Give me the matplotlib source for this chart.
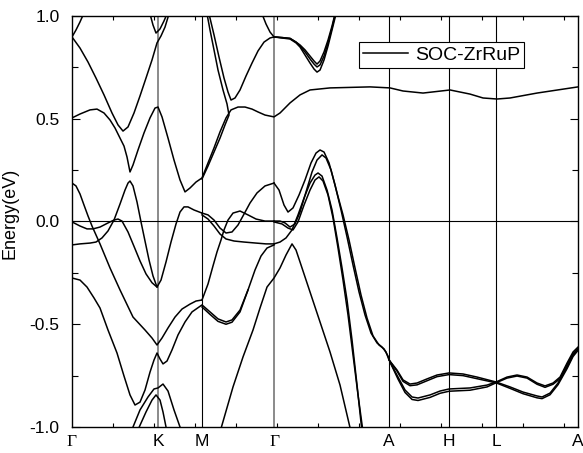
import matplotlib
matplotlib.use("Agg")
import matplotlib.pyplot as plt

plt.rcParams['font.family'] = ['Liberation Sans', 'DejaVu Sans']
plt.rcParams['axes.unicode_minus'] = False

# high-symmetry points (path coordinate) and labels
kpts = [0, 86, 130, 202, 317, 377, 424, 506]
klabels = ['Γ', 'K', 'M', 'Γ', 'A', 'H', 'L', 'A']

# ---- bands: (k list, E list) ----
bA0_k = [0, 4, 8, 12]
bA0_E = [0.898, 0.932, 0.971, 1.015]

bB_k = [0, 8, 16, 24, 32, 40, 46, 51, 56, 62, 68, 74, 80, 85, 89, 93, 97]
bB_E = [0.898, 0.844, 0.776, 0.698, 0.616, 0.528, 0.470, 0.440, 0.460, 0.528, 0.611, 0.698, 0.786, 0.869, 0.903, 0.946, 1.010]

bKV_k = [78, 81, 84, 88, 92, 95]
bKV_E = [1.010, 0.956, 0.917, 0.937, 0.976, 1.010]

bC_k = [0, 8, 18, 25, 32, 38, 43, 48, 52, 55, 58, 61, 66, 72, 78, 83, 86, 90, 96, 102, 108, 113, 118, 124, 130,
        136, 142, 148, 154, 159, 166, 173, 180, 186, 193, 202,
        208, 218, 228, 238, 258, 298, 318, 331, 351, 378, 398, 411, 425, 438, 465, 506]
bC_E = [0.504, 0.523, 0.543, 0.547, 0.528, 0.494, 0.455, 0.406, 0.367, 0.314, 0.241, 0.275, 0.348, 0.431, 0.504, 0.552, 0.557, 0.509, 0.406, 0.299, 0.202, 0.144, 0.163, 0.192, 0.212,
        0.285, 0.358, 0.436, 0.504, 0.543, 0.557, 0.557, 0.547, 0.533, 0.518, 0.509,
        0.528, 0.577, 0.616, 0.640, 0.650, 0.655, 0.650, 0.635, 0.625, 0.640, 0.620, 0.601, 0.596, 0.601, 0.625, 0.655]

bC2_k = [130, 136, 142, 148, 153, 157, 155, 151, 146, 142, 138, 135]
bC2_E = [0.207, 0.270, 0.338, 0.406, 0.470, 0.518, 0.572, 0.640, 0.737, 0.835, 0.932, 1.010]

bV2_k = [137, 142, 147, 152, 156, 159, 163, 168, 174, 180, 186, 192, 198, 202]
bV2_E = [1.010, 0.908, 0.800, 0.698, 0.630, 0.591, 0.601, 0.640, 0.708, 0.771, 0.830, 0.873, 0.893, 0.898]

bTG_k = [190, 194, 198, 202]
bTG_E = [1.010, 0.961, 0.922, 0.898]

bT1_k = [202, 210, 218, 224, 228, 233, 238, 242, 245, 248, 252, 256, 260, 263]
bT1_E = [0.898, 0.895, 0.891, 0.873, 0.859, 0.835, 0.805, 0.781, 0.766, 0.781, 0.825, 0.883, 0.951, 1.010]
bT2_k = [202, 210, 218, 224, 228, 233, 238, 242, 245, 248, 252, 256, 260, 263]
bT2_E = [0.898, 0.895, 0.891, 0.873, 0.854, 0.825, 0.791, 0.766, 0.752, 0.762, 0.805, 0.869, 0.942, 1.005]
bT3_k = [202, 210, 218, 224, 228, 233, 238, 242, 245, 248, 252, 256, 260, 264]
bT3_E = [0.898, 0.893, 0.888, 0.869, 0.849, 0.810, 0.771, 0.742, 0.727, 0.737, 0.786, 0.854, 0.932, 1.010]

bD_k = [0, 4, 8, 12, 16, 20, 28, 38, 48, 61, 73, 80, 85, 90, 96, 103, 110, 118, 124, 130]
bD_E = [0.187, 0.173, 0.134, 0.080, 0.027, -0.022, -0.109, -0.226, -0.333, -0.465, -0.528, -0.567, -0.601,
        -0.567, -0.518, -0.465, -0.426, -0.402, -0.387, -0.382]

bE_k = [0, 8, 15, 21, 28, 36, 42, 46, 50, 56, 62, 68, 74, 80, 85]
bE_E = [-0.002, -0.022, -0.036, -0.036, -0.027, -0.007, 0.007, 0.012, 0.002, -0.051, -0.121, -0.192, -0.255, -0.298, -0.319]

bF_k = [0, 8, 18, 24, 30, 36, 42, 48, 53, 56, 58, 61, 65, 69, 73, 77, 81, 85, 89, 94, 99, 104, 108, 112, 116, 122, 130]
bF_E = [-0.114, -0.109, -0.105, -0.100, -0.080, -0.046, 0.007, 0.085, 0.153, 0.187, 0.197, 0.173, 0.095, -0.002, -0.095, -0.187, -0.265, -0.319, -0.285, -0.197, -0.100, -0.012, 0.046, 0.071, 0.071, 0.056, 0.041]

bG_k = [0, 8, 15, 22, 28, 36, 45, 52, 58, 63, 68, 73, 78, 82, 85, 88, 91, 95, 100, 106, 113, 120, 130,
        138, 146, 154, 160, 168, 176, 183, 189, 195, 202]
bG_E = [-0.275, -0.285, -0.319, -0.372, -0.421, -0.528, -0.640, -0.752, -0.844, -0.893, -0.879, -0.820, -0.733, -0.674, -0.640, -0.669, -0.693, -0.679, -0.625, -0.552, -0.489, -0.440, -0.406,
        -0.440, -0.474, -0.489, -0.479, -0.431, -0.333, -0.236, -0.168, -0.129, -0.114]

bG2_k = [130, 138, 146, 154, 160, 168, 176]
bG2_E = [-0.416, -0.452, -0.486, -0.500, -0.490, -0.440, -0.333]

bH1_k = [59, 61, 68, 76, 82, 86, 91, 96, 102, 108, 110]
bH1_E = [-1.024, -1.0, -0.917, -0.854, -0.815, -0.810, -0.791, -0.825, -0.917, -1.0, -1.024]
bH2_k = [65, 74, 80, 84, 88, 91, 95]
bH2_E = [-1.024, -0.927, -0.869, -0.844, -0.869, -0.927, -1.024]

bR_k = [148, 161, 171, 181, 188, 195, 202, 208, 214, 220, 224, 228, 238, 248, 258, 268, 279]
bR_E = [-1.024, -0.805, -0.659, -0.528, -0.421, -0.319, -0.275, -0.226, -0.163, -0.109, -0.139, -0.197, -0.343, -0.489, -0.635, -0.796, -1.024]

bS1_k = [130, 136, 142, 148, 154, 160, 166, 172, 178, 185, 193, 202]
bS1_E = [0.041, 0.032, 0.007, -0.032, -0.056, -0.051, -0.017, 0.036, 0.090, 0.139, 0.173, 0.187]
bS2_k = [130, 136, 142, 148, 154, 162, 172, 184, 194, 202]
bS2_E = [0.032, 0.012, -0.022, -0.061, -0.085, -0.095, -0.100, -0.105, -0.109, -0.109]
bS3_k = [130, 136, 141, 145, 149, 152, 156, 161, 168, 176, 184, 193, 202]
bS3_E = [-0.382, -0.304, -0.216, -0.148, -0.090, -0.041, 0.007, 0.041, 0.051, 0.032, 0.012, 0.002, 0.002]

bP1_k = [202, 207, 212, 216, 221, 227, 233, 239, 244, 248, 252, 257, 263, 269, 275, 281, 287, 293, 299, 305, 310, 314, 317,
         325, 331, 338, 345, 355, 365, 377, 391, 405, 424, 438, 451, 465, 470, 478, 486, 495, 501, 506]
bP1_E = [0.187, 0.153, 0.080, 0.046, 0.066, 0.129, 0.202, 0.285, 0.333, 0.348, 0.338, 0.285, 0.178, 0.056, -0.075, -0.212, -0.343, -0.455, -0.543, -0.591, -0.611, -0.635, -0.674,
         -0.723, -0.771, -0.791, -0.786, -0.766, -0.747, -0.737, -0.742, -0.757, -0.781, -0.805, -0.830, -0.849, -0.854, -0.835, -0.786, -0.708, -0.650, -0.620]
bU2_k = [317, 325, 331, 338, 345, 355, 365, 377, 391, 405, 424, 438, 451, 465, 470, 478, 486, 495, 501, 506]
bU2_E = [-0.674, -0.728, -0.778, -0.799, -0.795, -0.775, -0.755, -0.745, -0.750, -0.765, -0.785, -0.812, -0.838, -0.858, -0.862, -0.843, -0.794, -0.716, -0.657, -0.627]

bP2_k = [202, 208, 213, 218, 223, 228, 234, 240, 245, 250, 254, 259, 265, 271, 277, 283, 289, 295, 301, 307, 312, 316, 318,
         326, 333, 340, 346, 358, 368, 377, 398, 415, 424, 435, 445, 455, 465, 473, 481, 488, 495, 501, 506]
bP2_E = [0.002, 0.002, -0.007, -0.027, -0.012, 0.046, 0.144, 0.241, 0.299, 0.324, 0.309, 0.251, 0.139, 0.032, -0.090, -0.226, -0.358, -0.470, -0.557, -0.601, -0.620, -0.655, -0.684,
         -0.757, -0.820, -0.854, -0.859, -0.844, -0.825, -0.815, -0.810, -0.796, -0.781, -0.757, -0.747, -0.757, -0.786, -0.800, -0.786, -0.757, -0.689, -0.635, -0.611]
bW2_k = [318, 326, 333, 340, 346, 358, 368, 377, 398, 415, 424, 435, 445, 455, 465, 473, 481, 488, 495, 501, 506]
bW2_E = [-0.684, -0.767, -0.832, -0.866, -0.871, -0.856, -0.836, -0.826, -0.821, -0.805, -0.785, -0.762, -0.752, -0.762, -0.792, -0.807, -0.792, -0.765, -0.697, -0.643, -0.619]

bP3_k = [202, 208, 214, 220, 226, 232, 238, 243, 246, 250, 255, 260, 265, 270, 275, 280, 285, 290]
bP3_E = [-0.109, -0.100, -0.080, -0.041, 0.032, 0.114, 0.187, 0.226, 0.236, 0.221, 0.153, 0.056, -0.080, -0.226, -0.382, -0.577, -0.796, -1.024]
bP4_k = [202, 210, 216, 221, 226, 232, 238, 243, 247, 251, 256, 261, 266, 271, 276, 281, 286, 291]
bP4_E = [-0.002, -0.012, -0.032, -0.041, -0.002, 0.080, 0.153, 0.202, 0.217, 0.197, 0.129, 0.017, -0.129, -0.285, -0.455, -0.650, -0.844, -1.024]

bands = [
    (bA0_k, bA0_E), (bB_k, bB_E), (bKV_k, bKV_E), (bC_k, bC_E), (bC2_k, bC2_E),
    (bV2_k, bV2_E), (bTG_k, bTG_E), (bT1_k, bT1_E), (bT2_k, bT2_E), (bT3_k, bT3_E),
    (bD_k, bD_E), (bE_k, bE_E), (bF_k, bF_E), (bG_k, bG_E), (bG2_k, bG2_E),
    (bH1_k, bH1_E), (bH2_k, bH2_E), (bR_k, bR_E), (bS1_k, bS1_E), (bS2_k, bS2_E),
    (bS3_k, bS3_E), (bP1_k, bP1_E), (bU2_k, bU2_E), (bP2_k, bP2_E), (bW2_k, bW2_E),
    (bP3_k, bP3_E), (bP4_k, bP4_E),
]

fig = plt.figure(figsize=(5.83, 4.53), dpi=100)
ax = fig.add_axes([0.1235, 0.0574, 0.868, 0.9073])

for i, (k, e) in enumerate(bands):
    ax.plot(k, e, color='black', lw=1.1, solid_joinstyle='round',
            label='SOC-ZrRuP' if i == 0 else None, zorder=3)

# high-symmetry verticals
for kp in kpts[1:-1]:
    if kp in (86, 202):
        ax.axvline(kp, color='#8a8a8a', lw=1.4, zorder=1)
    else:
        ax.axvline(kp, color='black', lw=0.8, zorder=1)
ax.axhline(0, color='black', lw=0.8, zorder=1)

ax.set_xlim(kpts[0], kpts[-1])
ax.set_ylim(-1.0, 1.0)

ax.set_yticks([-1.0, -0.5, 0.0, 0.5, 1.0])
ax.set_yticklabels(['-1.0', '-0.5', '0.0', '0.5', '1.0'], fontsize=12.5)
ax.set_yticks([-0.75, -0.25, 0.25, 0.75], minor=True)
ax.tick_params(axis='y', which='major', direction='in', length=6, width=0.8, right=True, pad=9)
ax.tick_params(axis='y', which='minor', direction='in', length=4, width=0.8, right=True)

ax.set_xticks(kpts)
ax.set_xticklabels(klabels, fontsize=12.5)
for t, lab in zip(ax.get_xticklabels(), klabels):
    if lab == 'Γ':
        t.set_fontfamily(['Liberation Serif', 'DejaVu Serif'])
ax.set_xticks([41 * i for i in range(1, 13)], minor=True)
ax.tick_params(axis='x', which='major', length=0, pad=5)
ax.tick_params(axis='x', which='minor', direction='in', length=3, width=0.8, top=True)

for s in ax.spines.values():
    s.set_linewidth(1.0)

ax.set_ylabel('Energy(eV)', fontsize=13)
ax.yaxis.set_label_coords(-0.105, 0.52)

leg = ax.legend(loc='upper left', bbox_to_anchor=(0.567, 0.936), fontsize=14,
                frameon=True, fancybox=False, edgecolor='black', framealpha=1,
                handlelength=2.3, borderpad=0.2, handletextpad=0.4, borderaxespad=0)
leg.get_frame().set_linewidth(0.8)

fig.savefig('out.png', dpi=100)
